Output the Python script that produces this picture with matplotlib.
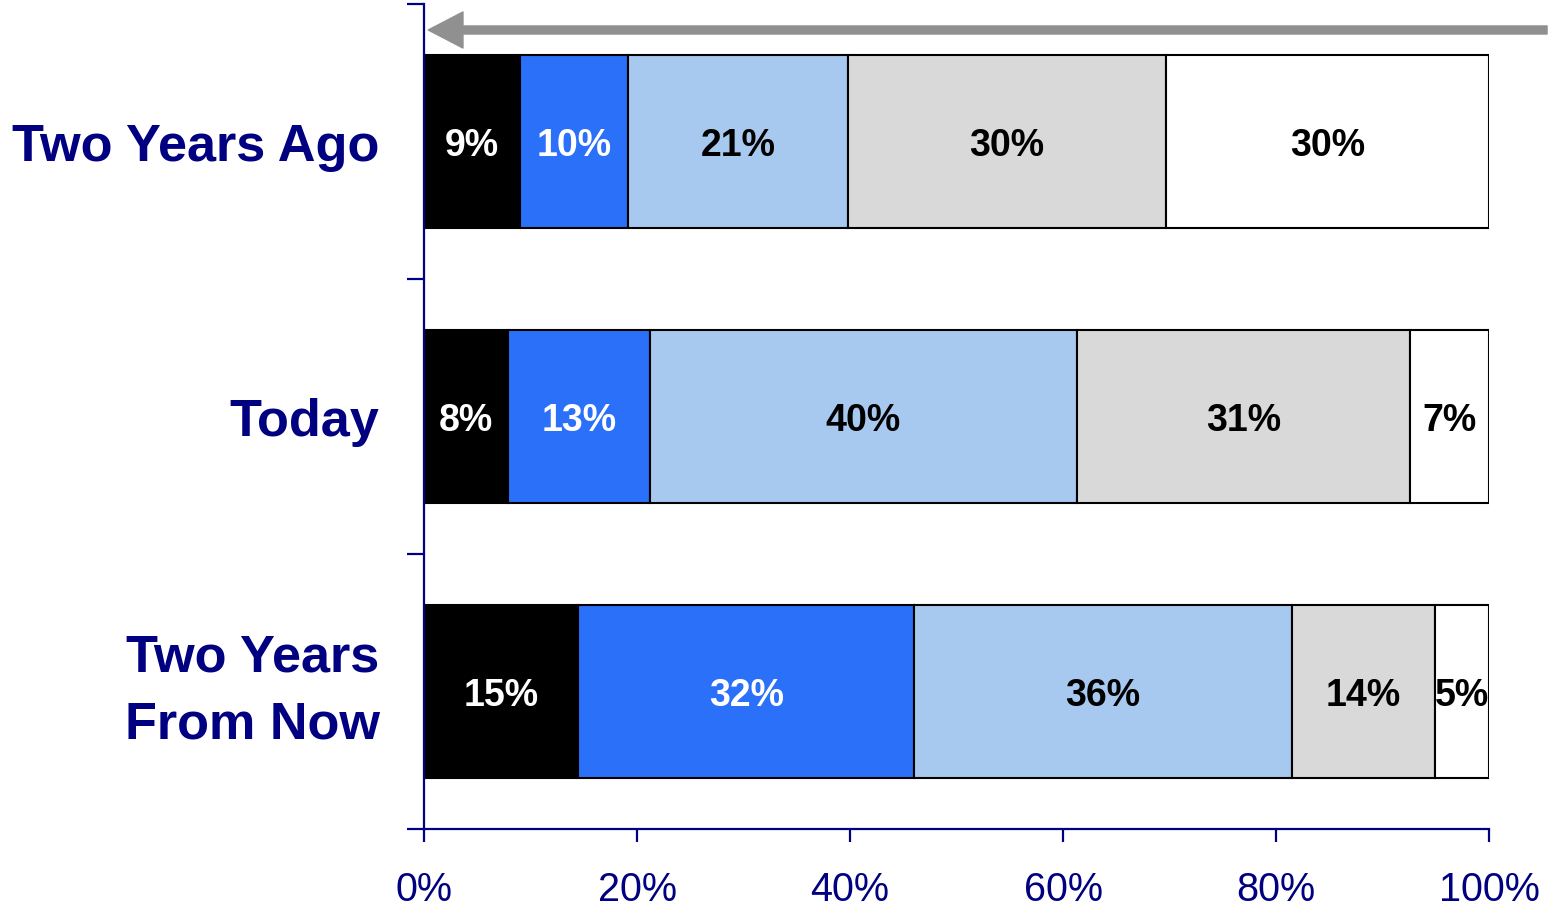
import numpy as np
import matplotlib.pyplot as plt

plt.rcParams['font.family'] = ['Liberation Sans', 'DejaVu Sans']

# data (percent shares)
categories = ["Two Years Ago", "Today", "Two Years\nFrom Now"]
seg_values = [
    [9.0, 10.2, 20.6, 29.9, 30.3],
    [7.9, 13.3, 40.1, 31.3, 7.4],
    [14.5, 31.5, 35.5, 13.4, 5.1],
]
seg_labels = [
    ["9%", "10%", "21%", "30%", "30%"],
    ["8%", "13%", "40%", "31%", "7%"],
    ["15%", "32%", "36%", "14%", "5%"],
]
seg_colors = ["#000000", "#2B70F8", "#A7C9F0", "#D9D9D9", "#FFFFFF"]
text_colors = ["white", "white", "black", "black", "black"]
xticks = [0, 20, 40, 60, 80, 100]
xtick_labels = ["0%", "20%", "40%", "60%", "80%", "100%"]

navy = "#000080"

fig = plt.figure(figsize=(15.53, 9.13), dpi=100)
ax = fig.add_axes([424 / 1553, 1 - 829 / 913, 1065 / 1553, 825 / 913])

vals = np.array(seg_values)
ypos = np.arange(len(categories))
left = np.zeros(len(categories))
for j in range(vals.shape[1]):
    bars = ax.barh(ypos, vals[:, j], left=left, height=0.63,
                   color=seg_colors[j], edgecolor="black", linewidth=1.5, zorder=2)
    for i, b in enumerate(bars):
        cx = left[i] + vals[i, j] / 2
        ax.text(cx, ypos[i], seg_labels[i][j], ha="center", va="center_baseline",
                fontsize=27, fontweight="bold", color=text_colors[j], zorder=3)
    left += vals[:, j]

ax.set_xlim(0, 100)
ax.set_ylim(2.5, -0.5)

# axes styling
for s in ["top", "right"]:
    ax.spines[s].set_visible(False)
for s in ["left", "bottom"]:
    ax.spines[s].set_color(navy)
    ax.spines[s].set_linewidth(1.6)

ax.set_xticks(xticks, xtick_labels)
ax.tick_params(axis="x", direction="out", length=9.5, width=1.6, color=navy,
               labelcolor=navy, labelsize=28.5, pad=21)

ax.set_yticks([-0.5, 0.5, 1.5, 2.5])
ax.set_yticklabels([])
ax.tick_params(axis="y", which="major", direction="out", length=12, width=1.6, color=navy)
ax.set_yticks(ypos, categories, minor=True)
ax.tick_params(axis="y", which="minor", length=0, pad=32, labelcolor=navy,
               labelsize=37.6)
for lbl in ax.get_yticklabels(minor=True):
    lbl.set_fontweight("bold")
    lbl.set_linespacing(1.45)
    if "\n" in lbl.get_text():
        lbl.set_verticalalignment("center")

# grey arrow above the bars
ax.annotate("", xy=(0.004, 0.9685), xytext=(1.0545, 0.9685),
            xycoords="axes fraction", textcoords="axes fraction",
            arrowprops=dict(arrowstyle="simple,head_length=25,head_width=26,tail_width=5.8",
                            mutation_scale=1, color="#909090", shrinkA=0, shrinkB=0),
            annotation_clip=False)

fig.savefig("out.png", dpi=100)
